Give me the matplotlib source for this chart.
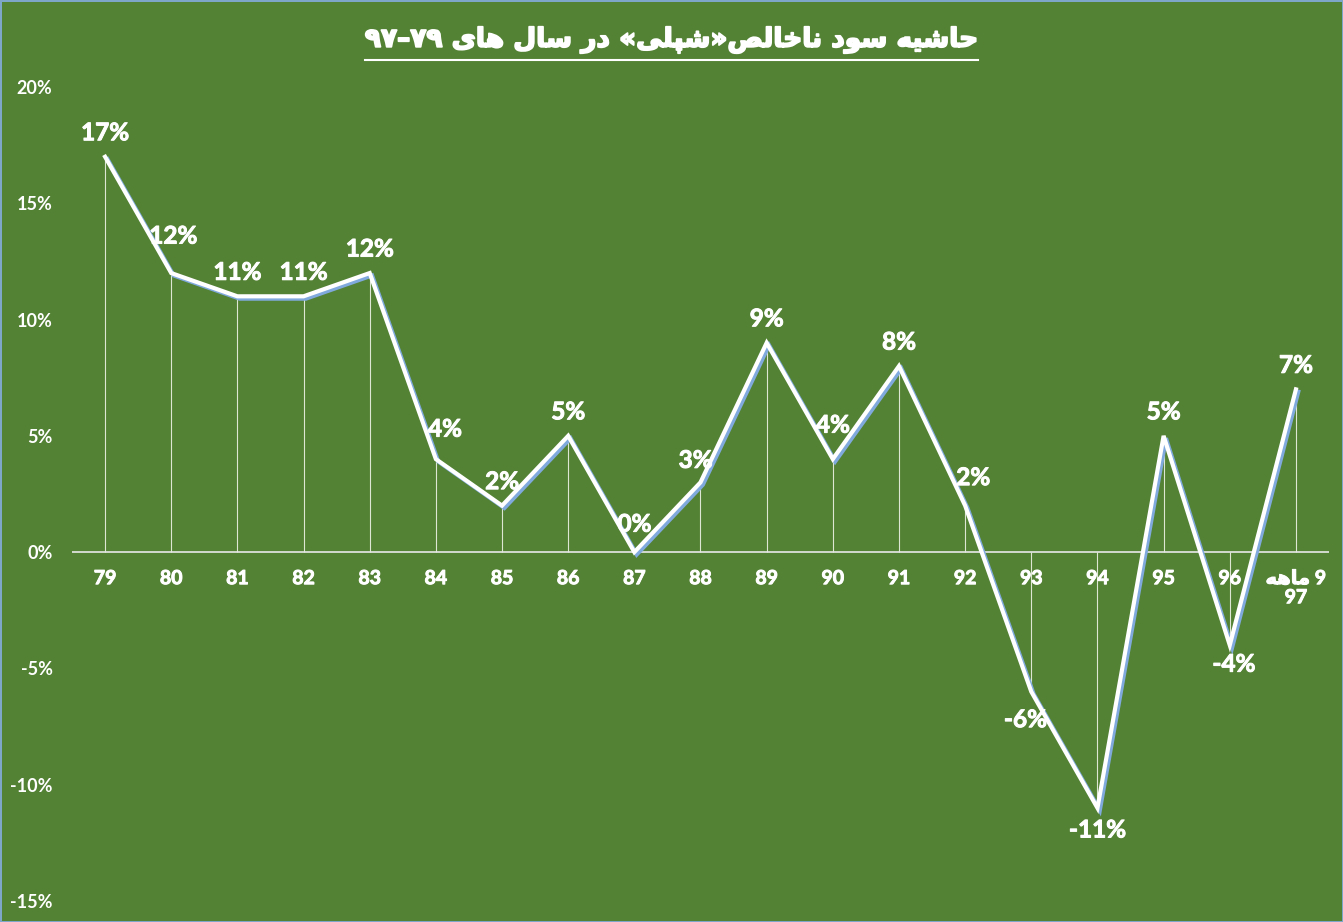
import matplotlib
matplotlib.use('Agg')
import matplotlib.pyplot as plt
import matplotlib.patheffects as pe
from matplotlib.lines import Line2D

# data
years = ['79', '80', '81', '82', '83', '84', '85', '86', '87', '88',
         '89', '90', '91', '92', '93', '94', '95', '96', '97']
margin = [17, 12, 11, 11, 12, 4, 2, 5, 0, 3, 9, 4, 8, 2, -6, -11, 5, -4, 7]
y_ticks = [-15, -10, -5, 0, 5, 10, 15, 20]

# hand-moved data labels in the original (pixel nudges)
label_nudge = {1: (2, 13), 5: (9, 6), 8: (0, 4), 9: (-5, -2), 11: (0, 10),
               13: (8, 4), 14: (-6, -2), 15: (0, 4), 17: (4, 7)}

# arabic presentation forms: isolated, final, initial, medial
FORMS = {
    'ا': ('\uFE8D', '\uFE8E', None, None),
    'ح': ('\uFEA1', '\uFEA2', '\uFEA3', '\uFEA4'),
    'خ': ('\uFEA5', '\uFEA6', '\uFEA7', '\uFEA8'),
    'د': ('\uFEA9', '\uFEAA', None, None),
    'ر': ('\uFEAD', '\uFEAE', None, None),
    'س': ('\uFEB1', '\uFEB2', '\uFEB3', '\uFEB4'),
    'ش': ('\uFEB5', '\uFEB6', '\uFEB7', '\uFEB8'),
    'ص': ('\uFEB9', '\uFEBA', '\uFEBB', '\uFEBC'),
    'ل': ('\uFEDD', '\uFEDE', '\uFEDF', '\uFEE0'),
    'م': ('\uFEE1', '\uFEE2', '\uFEE3', '\uFEE4'),
    'ن': ('\uFEE5', '\uFEE6', '\uFEE7', '\uFEE8'),
    'ه': ('\uFEE9', '\uFEEA', '\uFEEB', '\uFEEC'),
    'و': ('\uFEED', '\uFEEE', None, None),
    'ی': ('\uFBFC', '\uFBFD', '\uFBFE', '\uFBFF'),
    'پ': ('\uFB56', '\uFB57', '\uFB58', '\uFB59'),
}


def shape(word):
    # join letters and return them in visual (left to right) order
    out = []
    for i, ch in enumerate(word):
        f = FORMS[ch]
        prev = word[i - 1] if i > 0 else ''
        nxt = word[i + 1] if i < len(word) - 1 else ''
        jp = prev in FORMS and FORMS[prev][2] is not None
        jn = f[2] is not None and nxt in FORMS
        if jp and jn:
            g = f[3]
        elif jp:
            g = f[1]
        elif jn:
            g = f[2]
        else:
            g = f[0]
        out.append(g)
    return ''.join(reversed(out))


title = ('۹۷–۷۹ ' + shape('های') + ' ' + shape('سال') + ' ' + shape('در')
         + ' «' + shape('شپلی') + '»' + shape('ناخالص') + ' '
         + shape('سود') + ' ' + shape('حاشیه'))
x_labels = years[:-1] + [shape('ماهه') + ' 9\n97']

plt.rcParams['font.family'] = ['Lato', 'DejaVu Sans']
thick = [pe.withStroke(linewidth=0.7, foreground='white')]

bg = '#548235'
fig = plt.figure(figsize=(13.43, 9.22), dpi=100, facecolor=bg)
fig.patch.set_edgecolor('#7ea6c8')
fig.patch.set_linewidth(2)

ax = fig.add_axes([72 / 1343, 21 / 922, 1257 / 1343, 814 / 922])
ax.set_facecolor('none')
x = list(range(len(years)))
ax.set_xlim(-0.5, len(years) - 0.5)
ax.set_ylim(-15, 20)

ax.vlines(x, 0, margin, color='#dce6d2', linewidth=0.8, zorder=1)
ax.axhline(0, color='#e8e8e8', linewidth=1.2, zorder=2)
ax.plot(x, margin, color='white', linewidth=3.0, zorder=3,
        solid_joinstyle='miter',
        path_effects=[pe.SimpleLineShadow(offset=(1.7, -1.7), shadow_color='#80aadd',
                                          alpha=1.0),
                      pe.Normal()])

for i, (xi, v) in enumerate(zip(x, margin)):
    dx, dy = label_nudge.get(i, (0, 0))
    dy += 24 if v >= 0 else -26
    ax.annotate(f'{v}%', (xi, v), xytext=(dx, dy), textcoords='offset pixels',
                ha='center', va='center', color='white', fontsize=17.5,
                fontweight='bold', zorder=4, path_effects=thick)

for s in ax.spines.values():
    s.set_visible(False)
ax.set_xticks([])
ax.set_yticks(y_ticks)
ax.set_yticklabels([f'{t}%' for t in y_ticks], color='white', fontsize=13,
                   fontweight='bold')
ax.tick_params(axis='y', length=0, pad=14)

# category labels below the zero line
for xi, lab in zip(x, x_labels):
    ax.annotate(lab, (xi, 0), xytext=(0, -18), textcoords='offset pixels',
                ha='center', va='top', color='white', fontsize=14,
                fontweight='bold', linespacing=1.15, path_effects=thick)

t = fig.text(0.5, 1 - 40 / 922, title, ha='center', va='center', color='white',
             fontsize=19, fontweight='bold', family=['DejaVu Sans'],
             path_effects=[pe.withStroke(linewidth=1.3, foreground='white')])
fig.canvas.draw()
bb = t.get_window_extent().transformed(fig.transFigure.inverted())
fig.add_artist(Line2D([bb.x0, bb.x1], [1 - 60 / 922] * 2, color='white',
                      linewidth=1.5, transform=fig.transFigure))

fig.savefig('out.png', dpi=100, facecolor=bg, edgecolor=fig.patch.get_edgecolor())
